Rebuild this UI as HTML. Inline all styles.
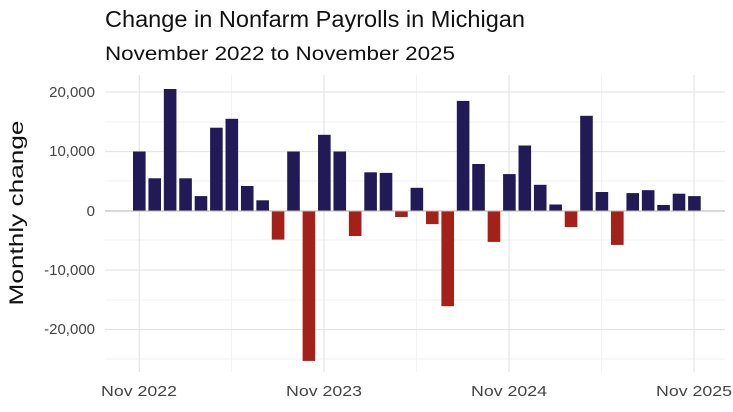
<!DOCTYPE html>
<html><head><meta charset="utf-8"><style>
body{margin:0;background:#fff;font-family:"Liberation Sans",sans-serif}
</style></head><body>
<svg width="733" height="407" xmlns="http://www.w3.org/2000/svg" font-family="Liberation Sans, sans-serif">
<rect width="733" height="407" fill="#fff"/>
<text x="105" y="27" font-size="23" fill="#111" textLength="420" lengthAdjust="spacingAndGlyphs">Change in Nonfarm Payrolls in Michigan</text>
<text x="105" y="60" font-size="19" fill="#111" textLength="350" lengthAdjust="spacingAndGlyphs">November 2022 to November 2025</text>
<g stroke="#f2f2f2" stroke-width="1">
<line x1="105" x2="725" y1="122" y2="122"/><line x1="105" x2="725" y1="181" y2="181"/>
<line x1="105" x2="725" y1="240" y2="240"/><line x1="105" x2="725" y1="300" y2="300"/>
<line x1="105" x2="725" y1="359" y2="359"/>
<line x1="231.5" x2="231.5" y1="75" y2="372"/><line x1="416.5" x2="416.5" y1="75" y2="372"/><line x1="601.5" x2="601.5" y1="75" y2="372"/>
</g>
<g stroke="#e6e6e6" stroke-width="1.3">
<line x1="105" x2="725" y1="92" y2="92"/><line x1="105" x2="725" y1="151.5" y2="151.5"/>
<line x1="105" x2="725" y1="211" y2="211"/><line x1="105" x2="725" y1="270" y2="270"/>
<line x1="105" x2="725" y1="329.5" y2="329.5"/>
<line x1="139.3" x2="139.3" y1="75" y2="372"/><line x1="324" x2="324" y1="75" y2="372"/>
<line x1="509" x2="509" y1="75" y2="372"/><line x1="694" x2="694" y1="75" y2="372"/>
</g>
<g fill="#211a57">
<rect x="133.0" y="151.5" width="12.6" height="59.5"/>
<rect x="148.42" y="178.3" width="12.6" height="32.7"/>
<rect x="163.84" y="89.0" width="12.6" height="122"/>
<rect x="179.26" y="178.3" width="12.6" height="32.7"/>
<rect x="194.68" y="196.1" width="12.6" height="14.9"/>
<rect x="210.1" y="127.7" width="12.6" height="83.3"/>
<rect x="225.52" y="118.8" width="12.6" height="92.2"/>
<rect x="240.94" y="186.0" width="12.6" height="25"/>
<rect x="256.36" y="200.3" width="12.6" height="10.7"/>
<rect x="287.2" y="151.5" width="12.6" height="59.5"/>
<rect x="318.04" y="134.8" width="12.6" height="76.2"/>
<rect x="333.46" y="151.5" width="12.6" height="59.5"/>
<rect x="364.3" y="172.3" width="12.6" height="38.7"/>
<rect x="379.72" y="172.9" width="12.6" height="38.1"/>
<rect x="410.56" y="187.8" width="12.6" height="23.2"/>
<rect x="456.82" y="100.9" width="12.6" height="110.1"/>
<rect x="472.24" y="164.0" width="12.6" height="47"/>
<rect x="503.08" y="174.1" width="12.6" height="36.9"/>
<rect x="518.5" y="145.5" width="12.6" height="65.5"/>
<rect x="533.92" y="184.8" width="12.6" height="26.2"/>
<rect x="549.34" y="204.5" width="12.6" height="6.5"/>
<rect x="580.18" y="115.8" width="12.6" height="95.2"/>
<rect x="595.6" y="192.0" width="12.6" height="19"/>
<rect x="626.44" y="193.1" width="12.6" height="17.9"/>
<rect x="641.86" y="190.2" width="12.6" height="20.8"/>
<rect x="657.28" y="205" width="12.6" height="6"/>
<rect x="672.7" y="193.7" width="12.6" height="17.3"/>
<rect x="688.12" y="196.1" width="12.6" height="14.9"/>
</g>
<g fill="#a32118">
<rect x="271.78" y="211" width="12.6" height="28.6"/>
<rect x="302.62" y="211" width="12.6" height="149.9"/>
<rect x="348.88" y="211" width="12.6" height="25"/>
<rect x="395.14" y="211" width="12.6" height="6"/>
<rect x="425.98" y="211" width="12.6" height="13.1"/>
<rect x="441.4" y="211" width="12.6" height="95.2"/>
<rect x="487.66" y="211" width="12.6" height="30.9"/>
<rect x="564.76" y="211" width="12.6" height="16.1"/>
<rect x="611.02" y="211" width="12.6" height="33.9"/>
</g>
<line x1="105" x2="725" y1="211" y2="211" stroke="#bbb" stroke-width="1"/>
<g font-size="15" fill="#444" text-anchor="end">
<text x="95" y="97">20,000</text><text x="95" y="156">10,000</text><text x="95" y="216">0</text>
<text x="95" y="275">-10,000</text><text x="95" y="334">-20,000</text>
</g>
<g font-size="15" fill="#444" text-anchor="middle">
<text x="139" y="396" textLength="76" lengthAdjust="spacingAndGlyphs">Nov 2022</text>
<text x="324" y="396" textLength="76" lengthAdjust="spacingAndGlyphs">Nov 2023</text>
<text x="509" y="396" textLength="76" lengthAdjust="spacingAndGlyphs">Nov 2024</text>
<text x="694" y="396" textLength="76" lengthAdjust="spacingAndGlyphs">Nov 2025</text>
</g>
<text transform="translate(23,213) rotate(-90)" font-size="19" fill="#111" text-anchor="middle" textLength="185" lengthAdjust="spacingAndGlyphs">Monthly change</text>
</svg>
</body></html>
